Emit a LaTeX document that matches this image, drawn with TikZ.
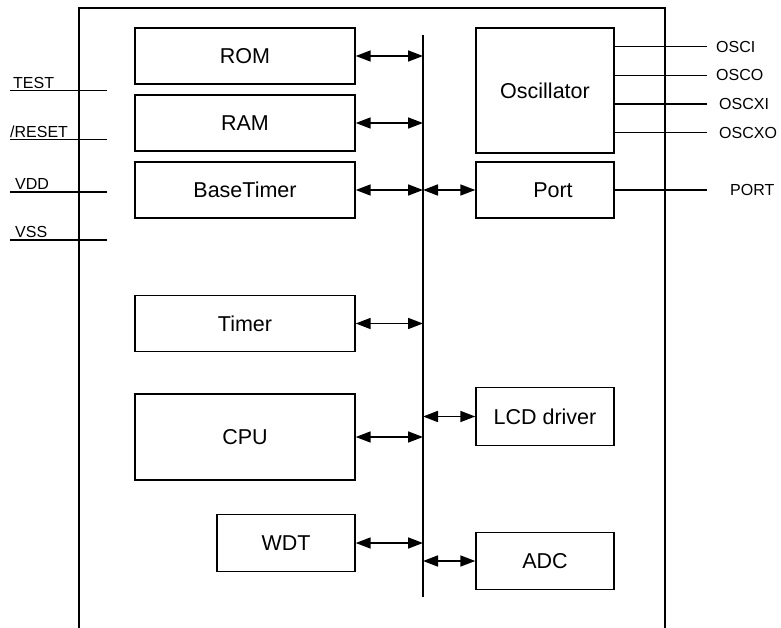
\documentclass[tikz,border=0pt]{standalone}
\usepackage{fontspec}
\setmainfont{Liberation Sans}
\usetikzlibrary{arrows.meta}

\begin{document}
\begin{tikzpicture}[x=1pt,y=-1pt,
  blk/.style={draw,line width=1.4pt,inner sep=0pt,font=\fontsize{21.5}{25}\selectfont},
  pinlbl/.style={inner sep=1pt,font=\fontsize{16}{19}\selectfont},
  busarrow/.style={line width=1.7pt,{Triangle[length=15pt,width=11pt]}-{Triangle[length=15pt,width=11pt]}}]
\useasboundingbox (0,0) rectangle (781,628);
% chip outline, open at the bottom
\draw[line width=2.2pt] (79,628) -- (79,8) -- (665,8) -- (665,628);
% internal bus
\coordinate (bustop) at (423,35);
\coordinate (busbot) at (423,597);
\draw[line width=2.4pt] (bustop) -- (busbot);
% blocks
\node[blk,minimum width=220pt,minimum height=56pt] (rom) at (245,56) {ROM};
\node[blk,minimum width=220pt,minimum height=56pt] (ram) at (245,123) {RAM};
\node[blk,minimum width=220pt,minimum height=56pt] (btimer) at (245,190) {BaseTimer};
\node[blk,minimum width=220pt,minimum height=56pt] (timer) at (245,323.5) {Timer};
\node[blk,minimum width=220pt,minimum height=86pt] (cpu) at (245,437) {CPU};
\node[blk,minimum width=138pt,minimum height=57pt] (wdt) at (286,543) {WDT};
\node[blk,minimum width=138pt,minimum height=125pt] (osc) at (545,90.7) {Oscillator};
\node[blk,minimum width=138pt,minimum height=56pt] (port) at (545,190) {\hspace{16pt}Port};
\node[blk,minimum width=138pt,minimum height=58pt] (lcd) at (545,416.5) {LCD driver};
\node[blk,minimum width=138pt,minimum height=57pt] (adc) at (545,561) {ADC};
% bus connections
\foreach \b in {rom,ram,btimer,timer,cpu,wdt}
  \draw[busarrow] (\b.east) -- (\b.east -| bustop);
\foreach \b in {port,lcd,adc}
  \draw[busarrow] (\b.west -| bustop) -- (\b.west);
% left pins
\foreach \n/\t/\y/\x in {test/TEST/90.7/12,reset/{/RESET}/139.7/9,vdd/VDD/192/14,vss/VSS/240/14} {
  \coordinate (\n a) at (10,\y);
  \coordinate (\n b) at (107,\y);
  \draw[line width=1.4pt] (\n a) -- (\n b);
  \node[pinlbl,anchor=south west] (\n) at (\x,\y-1) {\t};
}
% oscillator pins
\foreach \n/\t/\y/\x in {osci/OSCI/46.7/715,osco/OSCO/75.3/715,oscxi/OSCXI/104/718,oscxo/OSCXO/132.7/718} {
  \coordinate (\n a) at (706.7,\y);
  \node[pinlbl,anchor=west] (\n) at (\x,\y) {\t};
  \draw[line width=1.4pt] (osc.east |- \n a) -- (\n a);
}
\coordinate (porta) at (706.7,190);
\node[pinlbl,anchor=west] (portpin) at (729,190) {PORT};
\draw[line width=1.4pt] (port.east) -- (porta);
\end{tikzpicture}
\end{document}
